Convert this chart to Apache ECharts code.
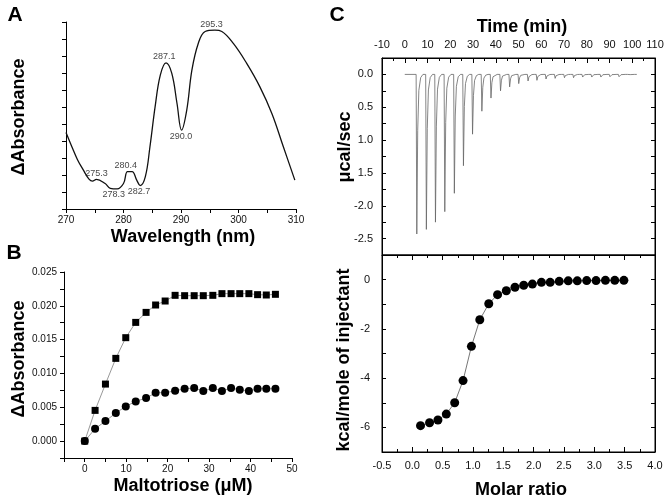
<!DOCTYPE html>
<html>
<head>
<meta charset="utf-8">
<script src="https://cdn.jsdelivr.net/npm/echarts@6/dist/echarts.min.js"></script>
<style>html,body{margin:0;background:#fff}#main{width:672px;height:504px}</style>
</head>
<body>
<div id="main"></div>
<script>
// A: difference spectrum, arbitrary units (1 unit = one pair of tick steps)
var specX = [270, 271, 272, 273, 274, 274.6, 275.3, 276.8, 277.7, 278.9, 280.0, 280.7, 281.5, 282.3, 282.9, 283.8, 284.6, 285.5, 286.4, 287.4, 288.4, 289.3, 290.1, 291.0, 291.9, 293.0, 294.2, 295.9, 297.1, 299.1, 301.4, 303.7, 305.8, 307.8, 309.8];
var specY = [2.25, 1.84, 1.45, 1.15, 0.88, 0.82, 0.87, 0.75, 0.61, 0.59, 0.75, 1.10, 1.10, 0.85, 0.69, 0.95, 1.83, 3.01, 3.94, 4.30, 3.99, 3.11, 2.32, 2.91, 4.09, 4.87, 5.22, 5.26, 5.22, 4.87, 4.29, 3.60, 2.81, 1.83, 0.85];
var peakText = ['275.3', '278.3', '280.4', '282.7', '287.1', '290.0', '295.3'];
var peakX = [275.3, 278.3, 280.4, 282.7, 287.1, 290.0, 295.3];
var peakY = [0.87, 0.59, 1.10, 0.69, 4.30, 2.32, 5.26];
var peakKind = ['max', 'min', 'max', 'min', 'max', 'min', 'max'];

// B: titration with maltotriose
var conc = [0, 2.5, 5.0, 7.5, 9.9, 12.3, 14.8, 17.1, 19.4, 21.8, 24.1, 26.4, 28.6, 30.9, 33.1, 35.3, 37.4, 39.6, 41.7, 43.8, 46.0];
var absSquare = [0, 0.00454, 0.00843, 0.01223, 0.01529, 0.01755, 0.01903, 0.02012, 0.02071, 0.02155, 0.0215, 0.0215, 0.0215, 0.02155, 0.0218, 0.0218, 0.0218, 0.0218, 0.02165, 0.0216, 0.0217];
var absCircle = [0, 0.00182, 0.00296, 0.00414, 0.00513, 0.00587, 0.00636, 0.00715, 0.00715, 0.00744, 0.00774, 0.00784, 0.0074, 0.00784, 0.0074, 0.00784, 0.0076, 0.0074, 0.00774, 0.00774, 0.00774];

// C top: raw ITC injections
var injTime = [5.0, 9.2, 13.2, 17.3, 21.5, 25.5, 29.5, 33.6, 37.6, 41.8, 45.8, 49.8, 53.9, 57.8, 61.8, 65.8, 69.9, 73.9, 77.9, 81.9, 85.9, 89.9, 93.9, 97.9];
var peakMin = [-2.43, -2.36, -2.25, -2.09, -1.81, -1.39, -0.91, -0.56, -0.36, -0.25, -0.19, -0.14, -0.10, -0.09, -0.07, -0.06, -0.05, -0.05, -0.04, -0.04, -0.04, -0.035, -0.035, -0.03];
var powerTicks = [0, -0.5, -1, -1.5, -2, -2.5];
var powerTickText = ['0.0', '0.5', '1.0', '1.5', '-2.0', '-2.5'];

// C bottom: integrated heats
var molarRatio = [0.135, 0.284, 0.422, 0.56, 0.698, 0.836, 0.974, 1.112, 1.26, 1.405, 1.549, 1.692, 1.836, 1.979, 2.128, 2.272, 2.421, 2.57, 2.719, 2.874, 3.028, 3.183, 3.337, 3.487];
var heat = [-5.93, -5.81, -5.70, -5.46, -5.00, -4.10, -2.71, -1.63, -0.98, -0.61, -0.45, -0.31, -0.23, -0.18, -0.11, -0.11, -0.07, -0.05, -0.05, -0.04, -0.04, -0.03, -0.03, -0.03];

function pairs(xs, ys) {
	return xs.map(function(x, i) { return [x, ys[i]]; });
}
function near(v, step) {
	return Math.abs(Math.round(v / step) * step - v) < 1e-7;
}

var itcTrace = [[0, 0]];
injTime.forEach(function(t, i) {
	var d = peakMin[i];
	itcTrace.push([t, 0], [t + 0.3, d], [t + 0.7, d * 0.35], [t + 1.2, d * 0.1], [t + 2, d * 0.02], [t + 3, 0]);
});
itcTrace.push([102, 0]);

var FONT = 'Liberation Sans, Arial, sans-serif';
var black = '#000';

function axisBase(o) {
	var base = {
		axisLine: { show: true, onZero: false, lineStyle: { color: black, width: 1 } },
		splitLine: { show: false },
		axisTick: { show: true, length: 4, lineStyle: { color: black } },
		axisLabel: { color: '#111', fontFamily: FONT, fontSize: 10 }
	};
	for (var k in o) {
		if (typeof o[k] === 'object' && base[k] && !Array.isArray(o[k])) {
			base[k] = Object.assign({}, base[k], o[k]);
		} else {
			base[k] = o[k];
		}
	}
	return base;
}

function txt(text, x, y, size, rot) {
	return {
		type: 'text', x: x, y: y, rotation: rot ? Math.PI / 2 : 0,
		style: { text: text, font: 'bold ' + size + 'px ' + FONT, fill: black, align: 'center', verticalAlign: 'middle' }
	};
}

var chart = echarts.init(document.getElementById('main'));
var option = {
	backgroundColor: '#fff',
	animation: false,
	grid: [
		{ left: 66, top: 22, width: 230, height: 187 },
		{ left: 64, top: 272, width: 228, height: 186 },
		{ left: 382, top: 58, width: 273, height: 197, show: true, borderColor: black, borderWidth: 1 },
		{ left: 382, top: 255, width: 273, height: 197, show: true, borderColor: black, borderWidth: 1 }
	],
	xAxis: [
		axisBase({ type: 'value', gridIndex: 0, min: 270, max: 310, interval: 5,
			axisLabel: { margin: 6, formatter: function(v) { return near(v, 10) ? v : ''; } } }),
		axisBase({ type: 'value', gridIndex: 1, min: -5, max: 50, interval: 5,
			axisLabel: { margin: 6, formatter: function(v) { return near(v, 10) ? v : ''; } } }),
		axisBase({ type: 'value', gridIndex: 2, position: 'top', min: -10, max: 110, interval: 10,
			axisTick: { inside: true, length: 5 },
			minorTick: { show: true, splitNumber: 2, length: 3, lineStyle: { color: black } },
			axisLabel: { fontSize: 11, margin: 8 } }),
		axisBase({ type: 'value', gridIndex: 3, min: -0.5, max: 4, interval: 0.5,
			axisTick: { inside: true, length: 5 },
			minorTick: { show: true, splitNumber: 2, length: 3, lineStyle: { color: black } },
			axisLabel: { fontSize: 11, margin: 8, formatter: function(v) { return v.toFixed(1); } } }),
		axisBase({ type: 'value', gridIndex: 3, position: 'top', min: -0.5, max: 4, interval: 0.5,
			axisTick: { inside: true, length: 5 },
			minorTick: { show: true, splitNumber: 2, length: 3, lineStyle: { color: black } },
			axisLabel: { show: false } })
	],
	yAxis: [
		axisBase({ type: 'value', gridIndex: 0, min: 0, max: 5.5, interval: 0.5, axisLabel: { show: false } }),
		axisBase({ type: 'value', gridIndex: 1, min: -0.0025, max: 0.025, interval: 0.0025,
			axisLabel: { margin: 7, formatter: function(v) { return near(v, 0.005) ? v.toFixed(3) : ''; } } }),
		axisBase({ type: 'value', gridIndex: 2, min: -2.75, max: 0.25, interval: 0.25,
			axisTick: { inside: true },
			axisLabel: { fontSize: 11, margin: 9, formatter: function(v) {
				for (var i = 0; i < powerTicks.length; i++) {
					if (Math.abs(powerTicks[i] - v) < 1e-6) return powerTickText[i];
				}
				return '';
			} } }),
		axisBase({ type: 'value', gridIndex: 2, position: 'right', min: -2.75, max: 0.25, interval: 0.25,
			axisTick: { inside: true }, axisLabel: { show: false } }),
		axisBase({ type: 'value', gridIndex: 3, min: -7, max: 1, interval: 1,
			axisTick: { inside: true },
			axisLabel: { fontSize: 11, margin: 12, formatter: function(v) { return near(v, 2) ? v : ''; } } }),
		axisBase({ type: 'value', gridIndex: 3, position: 'right', min: -7, max: 1, interval: 1,
			axisTick: { inside: true }, axisLabel: { show: false } })
	],
	series: [
		{ type: 'line', xAxisIndex: 0, yAxisIndex: 0, data: pairs(specX, specY), smooth: 0.4,
			showSymbol: false, lineStyle: { color: '#111', width: 1.3 } },
		{ type: 'scatter', xAxisIndex: 0, yAxisIndex: 0, symbolSize: 1,
			itemStyle: { color: 'transparent' },
			data: peakX.map(function(x, i) {
				return { value: [x, peakY[i]], name: peakText[i],
					label: { position: peakKind[i] === 'max' ? 'top' : 'bottom' } };
			}),
			label: { show: true, distance: 1, formatter: '{b}', color: '#111', fontFamily: FONT, fontSize: 9 } },
		{ type: 'line', xAxisIndex: 1, yAxisIndex: 1, data: pairs(conc, absSquare),
			symbol: 'rect', symbolSize: 7, itemStyle: { color: black },
			lineStyle: { color: '#999', width: 1 } },
		{ type: 'line', xAxisIndex: 1, yAxisIndex: 1, data: pairs(conc, absCircle),
			symbol: 'circle', symbolSize: 8, itemStyle: { color: black },
			lineStyle: { color: '#999', width: 1 } },
		{ type: 'line', xAxisIndex: 2, yAxisIndex: 2, data: itcTrace, showSymbol: false,
			lineStyle: { color: '#666', width: 0.8 } },
		{ type: 'line', xAxisIndex: 3, yAxisIndex: 4, data: pairs(molarRatio, heat),
			symbol: 'circle', symbolSize: 9, itemStyle: { color: black },
			lineStyle: { color: '#777', width: 1 } }
	],
	graphic: [
		txt('A', 15, 15, 21), txt('B', 14, 253, 21), txt('C', 337, 15, 21),
		txt('\u0394Absorbance', 19, 117, 18, true),
		txt('Wavelength (nm)', 183, 237, 18),
		txt('\u0394Absorbance', 19, 359, 18, true),
		txt('Maltotriose (\u03bcM)', 183, 486, 18),
		txt('Time (min)', 522, 27, 18),
		txt('\u03bccal/sec', 345, 147, 18, true),
		txt('kcal/mole of injectant', 344, 360, 18, true),
		txt('Molar ratio', 521, 490, 18)
	]
};
chart.setOption(option);
</script>
</body>
</html>
